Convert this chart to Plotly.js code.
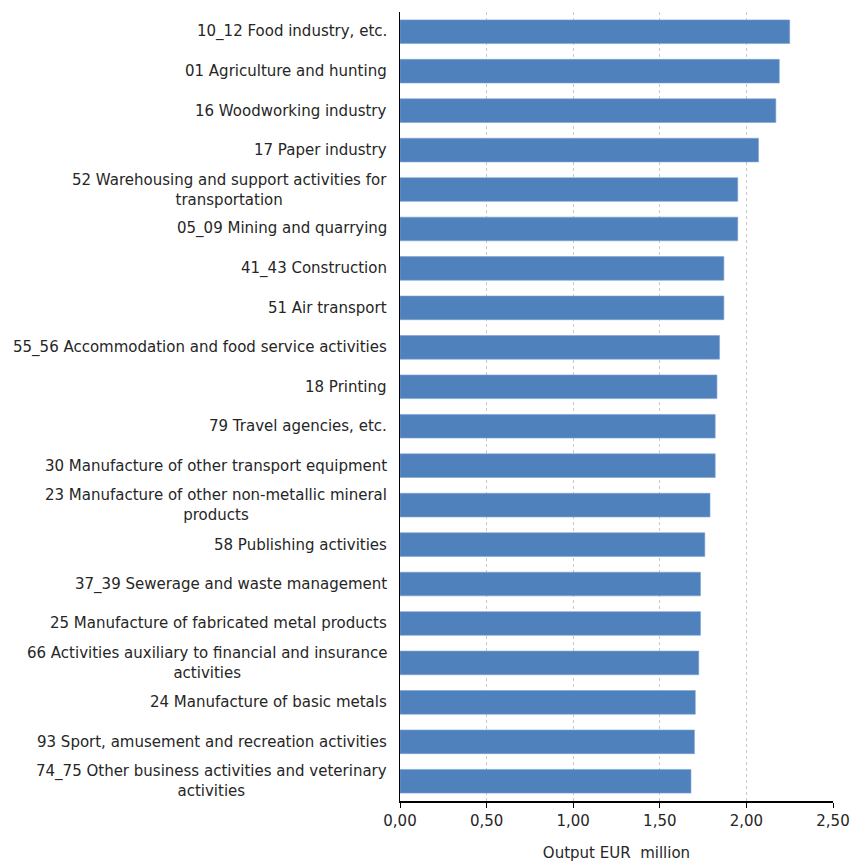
<!DOCTYPE html>
<html>
<head>
<meta charset="utf-8">
<script src="https://cdn.plot.ly/plotly-3.0.1.min.js"></script>
<style>html,body{margin:0;padding:0;background:#fff;}#chart{width:851px;height:862px;}</style>
</head>
<body>
<div id="chart"></div>
<script>
var categories = [
  "10_12 Food industry, etc.",
  "01 Agriculture and hunting",
  "16 Woodworking industry",
  "17 Paper industry",
  "52 Warehousing and support activities for<br>transportation",
  "05_09 Mining and quarrying",
  "41_43 Construction",
  "51 Air transport",
  "55_56 Accommodation and food service activities",
  "18 Printing",
  "79 Travel agencies, etc.",
  "30 Manufacture of other transport equipment",
  "23 Manufacture of other non-metallic mineral<br>products",
  "58 Publishing activities",
  "37_39 Sewerage and waste management",
  "25 Manufacture of fabricated metal products",
  "66 Activities auxiliary to financial and insurance<br>activities",
  "24 Manufacture of basic metals",
  "93 Sport, amusement and recreation activities",
  "74_75 Other business activities and veterinary<br>activities"
];
var outputValues = [2.25, 2.19, 2.17, 2.07, 1.95, 1.95, 1.87, 1.87, 1.845, 1.83, 1.82, 1.82, 1.79, 1.76, 1.735, 1.735, 1.725, 1.705, 1.70, 1.68];
var xTickValues = [0, 0.5, 1.0, 1.5, 2.0, 2.5];
var xAxisTitle = "Output EUR  million";

var ids = categories.map(function(c, i){ return "c" + i; });
var FONT = "DejaVu Sans, Liberation Sans, Arial, sans-serif";

var trace = {
  type: "bar",
  orientation: "h",
  x: outputValues,
  y: ids,
  marker: {color: "#4f81bd", line: {color: "#7fa3d1", width: 0.6}},
  width: 0.6,
  hoverinfo: "x"
};

var annotations = categories.map(function(c, i){
  return {
    xref: "paper", yref: "y", x: 0, y: ids[i],
    xanchor: "right", yanchor: "middle",
    xshift: -11,
    text: c, showarrow: false, align: "center",
    font: {family: FONT, size: 15, color: "#262626"}
  };
});

var layout = {
  width: 851, height: 862,
  margin: {l: 400, r: 18, t: 12, b: 61},
  paper_bgcolor: "#ffffff", plot_bgcolor: "#ffffff",
  showlegend: false,
  separators: ",.",
  font: {family: FONT, size: 15, color: "#262626"},
  xaxis: {
    range: [0, 2.5],
    tickvals: xTickValues,
    tickformat: ".2f",
    showgrid: true, gridcolor: "#c9c9c9", griddash: "dot", gridwidth: 1,
    showline: true, linecolor: "#000000", linewidth: 1.5,
    ticks: "outside", ticklen: 5, tickcolor: "#000000",
    zeroline: false,
    tickfont: {family: FONT, size: 15, color: "#262626"},
    title: {text: xAxisTitle, font: {family: FONT, size: 15, color: "#262626"}, standoff: 20}
  },
  yaxis: {
    type: "category",
    categoryorder: "array", categoryarray: ids,
    range: [19.5, -0.5],
    showticklabels: false,
    showgrid: false, zeroline: false,
    showline: true, linecolor: "#000000", linewidth: 1.5,
    ticks: ""
  },
  annotations: annotations
};

Plotly.newPlot("chart", [trace], layout, {displayModeBar: false, staticPlot: true});
</script>
</body>
</html>
